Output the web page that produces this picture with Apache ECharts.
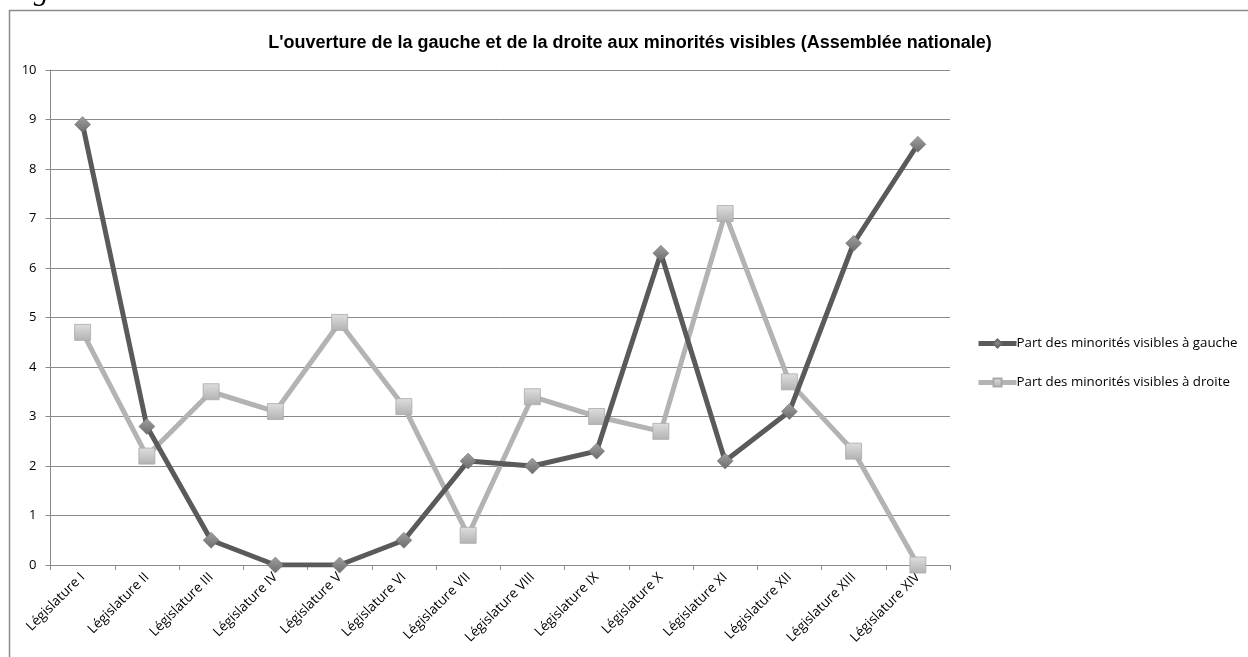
<!DOCTYPE html>
<html>
<head>
<meta charset="utf-8">
<script src="https://cdn.jsdelivr.net/npm/echarts@6/dist/echarts.min.js"></script>
<style>
  html, body { margin: 0; padding: 0; background: #ffffff; }
  #chart { width: 1248px; height: 657px; }
</style>
</head>
<body>
<div id="chart"></div>
<script>
// Legislatures of the Assemblée nationale
const categories = [
  'Législature I', 'Législature II', 'Législature III', 'Législature IV',
  'Législature V', 'Législature VI', 'Législature VII', 'Législature VIII',
  'Législature IX', 'Législature X', 'Législature XI', 'Législature XII',
  'Législature XIII', 'Législature XIV'
];

// Share of visible minorities (%), left-wing deputies
const gauche = [8.9, 2.8, 0.5, 0, 0, 0.5, 2.1, 2.0, 2.3, 6.3, 2.1, 3.1, 6.5, 8.5];
// Share of visible minorities (%), right-wing deputies
const droite = [4.7, 2.2, 3.5, 3.1, 4.9, 3.2, 0.6, 3.4, 3.0, 2.7, 7.1, 3.7, 2.3, 0];

const seriesNames = [
  'Part des minorités visibles à gauche',
  'Part des minorités visibles à droite'
];

const titleText = "L'ouverture de la gauche et de la droite aux minorités visibles (Assemblée nationale)";

const axisGrey = '#8a8a8a';
const labelFont = '"Open Sans", "DejaVu Sans", sans-serif';

const chart = echarts.init(document.getElementById('chart'), null, { renderer: 'canvas' });

const diamondFill = new echarts.graphic.LinearGradient(0, 0, 0, 1, [
  { offset: 0, color: '#a0a0a0' },
  { offset: 1, color: '#6c6c6c' }
]);
const squareFill = new echarts.graphic.LinearGradient(0, 0, 0, 1, [
  { offset: 0, color: '#dedede' },
  { offset: 1, color: '#b2b2b2' }
]);

chart.setOption({
  animation: false,
  backgroundColor: '#ffffff',
  title: {
    text: titleText,
    left: 625,
    textAlign: 'center',
    top: 29,
    textStyle: {
      fontFamily: '"Liberation Sans", Arial, sans-serif',
      fontWeight: 'bold',
      fontSize: 18,
      color: '#000000'
    }
  },
  graphic: [
    {
      type: 'rect',
      shape: { x: 9.5, y: 10.5, width: 1300, height: 700 },
      style: { fill: 'none', stroke: '#8c8c8c', lineWidth: 1.5 },
      silent: true
    },
    {
      type: 'text',
      x: 7,
      y: -8,
      style: {
        text: 'Figure 3',
        font: 'italic 30px "Liberation Serif", "DejaVu Serif", serif',
        fill: '#000000',
        verticalAlign: 'middle'
      },
      silent: true
    }
  ],
  legend: {
    orient: 'vertical',
    left: 971,
    top: 332,
    itemWidth: 38,
    itemHeight: 10,
    itemGap: 26,
    lineStyle: { width: 5 },
    textStyle: {
      fontFamily: labelFont,
      fontSize: 13.3,
      color: '#000000',
      padding: [0, 0, 0, -5]
    },
    data: seriesNames
  },
  grid: {
    left: 50.5,
    right: 298,
    top: 70,
    bottom: 92,
    containLabel: false
  },
  xAxis: {
    type: 'category',
    data: categories,
    boundaryGap: true,
    axisLine: { show: true, lineStyle: { color: axisGrey, width: 1 } },
    axisTick: { show: true, length: 5, alignWithLabel: false, lineStyle: { color: axisGrey } },
    axisLabel: {
      interval: 0,
      rotate: 45,
      margin: 10,
      fontFamily: labelFont,
      fontSize: 13.5,
      color: '#000000'
    },
    splitLine: { show: false }
  },
  yAxis: {
    type: 'value',
    min: 0,
    max: 10,
    interval: 1,
    axisLine: { show: true, lineStyle: { color: axisGrey, width: 1 } },
    axisTick: { show: true, length: 5, lineStyle: { color: axisGrey } },
    axisLabel: {
      margin: 14,
      fontFamily: labelFont,
      fontSize: 13,
      color: '#000000'
    },
    splitLine: { show: true, lineStyle: { color: axisGrey, width: 1 } }
  },
  series: [
    {
      name: seriesNames[0],
      type: 'line',
      data: gauche,
      z: 3,
      symbol: 'diamond',
      symbolSize: 16,
      showAllSymbol: true,
      lineStyle: { color: '#5a5a5a', width: 5 },
      itemStyle: { color: diamondFill, borderColor: '#6a6a6a', borderWidth: 0.5 }
    },
    {
      name: seriesNames[1],
      type: 'line',
      data: droite,
      z: 2,
      symbol: 'rect',
      symbolSize: 16,
      showAllSymbol: true,
      lineStyle: { color: '#b3b3b3', width: 5 },
      itemStyle: { color: squareFill, borderColor: '#a9a9a9', borderWidth: 0.8 }
    }
  ]
});
</script>
</body>
</html>
